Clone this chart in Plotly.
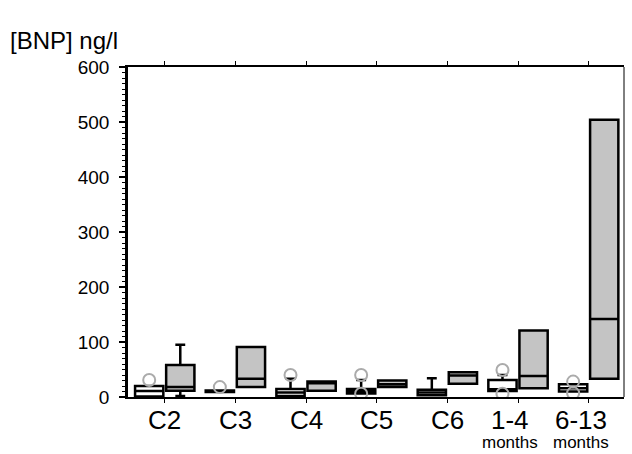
import plotly.graph_objects as go

categories = ["C2", "C3", "C4", "C5", "C6", "1-4", "6-13"]
sublabels = ["", "", "", "", "", "months", "months"]

# white boxes (left of each category)
w_q1 = [1, 9, 2, 6.5, 3, 11, 10]
w_med = [11, 10.5, 8, 11, 8, 14, 16]
w_q3 = [20, 12, 14.5, 14.5, 13, 31, 23]
w_lo = [1, 9, 2, 6.5, 3, 11, 10]
w_hi = [20, 12, 33, 31, 34, 40, 23]
w_outliers = [[31], [18], [40], [40, 6], [], [49, 6], [28, 7]]

# gray boxes (right of each category)
g_q1 = [11.5, 18, 11.5, 18, 24, 16, 33]
g_med = [18, 33, 25, 23, 39, 38, 142]
g_q3 = [58, 91, 28, 30, 45, 121, 504]
g_lo = [2, 18, 11.5, 18, 24, 16, 33]
g_hi = [95, 91, 28, 30, 45, 121, 504]

yticks = [0, 100, 200, 300, 400, 500, 600]

FONT = "Liberation Sans, Arial, sans-serif"
off = 0.22
bw = 0.4

idx = list(range(len(categories)))
xw = [i - off for i in idx]
xg = [i + off for i in idx]

fig = go.Figure()

fig.add_trace(go.Box(
    x=xw, q1=w_q1, median=w_med, q3=w_q3, lowerfence=w_lo, upperfence=w_hi,
    width=bw, fillcolor="white", line=dict(color="black", width=2.5),
    whiskerwidth=0.35, boxpoints=False, showlegend=False, hoverinfo="skip",
))
fig.add_trace(go.Box(
    x=xg, q1=g_q1, median=g_med, q3=g_q3, lowerfence=g_lo, upperfence=g_hi,
    width=bw, fillcolor="#c4c4c4", line=dict(color="black", width=2.5),
    whiskerwidth=0.35, boxpoints=False, showlegend=False, hoverinfo="skip",
))

ox, oy = [], []
for i, vals in enumerate(w_outliers):
    for v in vals:
        ox.append(xw[i])
        oy.append(v)
fig.add_trace(go.Scatter(
    x=ox, y=oy, mode="markers", showlegend=False, hoverinfo="skip",
    marker=dict(symbol="circle-open", size=12, color="#ababab", line=dict(width=2, color="#ababab")),
))

fig.update_layout(
    width=632, height=454,
    margin=dict(l=128, r=8, t=67, b=57),
    paper_bgcolor="white", plot_bgcolor="white",
    font=dict(family=FONT, color="black"),
    showlegend=False,
)

fig.update_xaxes(
    range=[-0.52, 6.5], tickmode="array", tickvals=idx, ticktext=categories,
    showticklabels=False,
    showline=True, linecolor="black", linewidth=1.5, mirror="ticks",
    ticks="outside", ticklen=4, tickwidth=1, tickcolor="black",
    showgrid=False, zeroline=False,
)
fig.update_yaxes(
    range=[0, 600], tickmode="array", tickvals=yticks,
    showline=True, linecolor="black", linewidth=2.5, mirror=False,
    ticks="outside", ticklen=6, tickwidth=1.5, tickcolor="black",
    minor=dict(dtick=10, ticks="outside", ticklen=3, tickwidth=1, tickcolor="black"),
    tickfont=dict(size=19, family=FONT), ticklabelstandoff=6,
    showgrid=False, zeroline=False,
)

fig.add_shape(type="line", xref="paper", yref="paper", x0=1, x1=1, y0=0, y1=1,
              line=dict(color="black", width=1))

for i, (c, s) in enumerate(zip(categories, sublabels)):
    shift = -8 if s else 0
    fig.add_annotation(x=i, xref="x", xshift=shift, y=0, yref="paper", yshift=-23,
                       text=c, showarrow=False, yanchor="middle",
                       font=dict(size=26, family=FONT))
    if s:
        fig.add_annotation(x=i, xref="x", xshift=shift, y=0, yref="paper", yshift=-45,
                           text=s, showarrow=False, yanchor="middle",
                           font=dict(size=17, family=FONT))

fig.add_annotation(x=0, xref="paper", xshift=-120, xanchor="left",
                   y=1, yref="paper", yshift=27, yanchor="middle",
                   text="[BNP] ng/l", showarrow=False,
                   font=dict(size=24, family=FONT))

fig.write_html("out.html", config={"displayModeBar": False},
               post_script="document.body.style.margin='0';document.body.style.overflow='hidden';")
